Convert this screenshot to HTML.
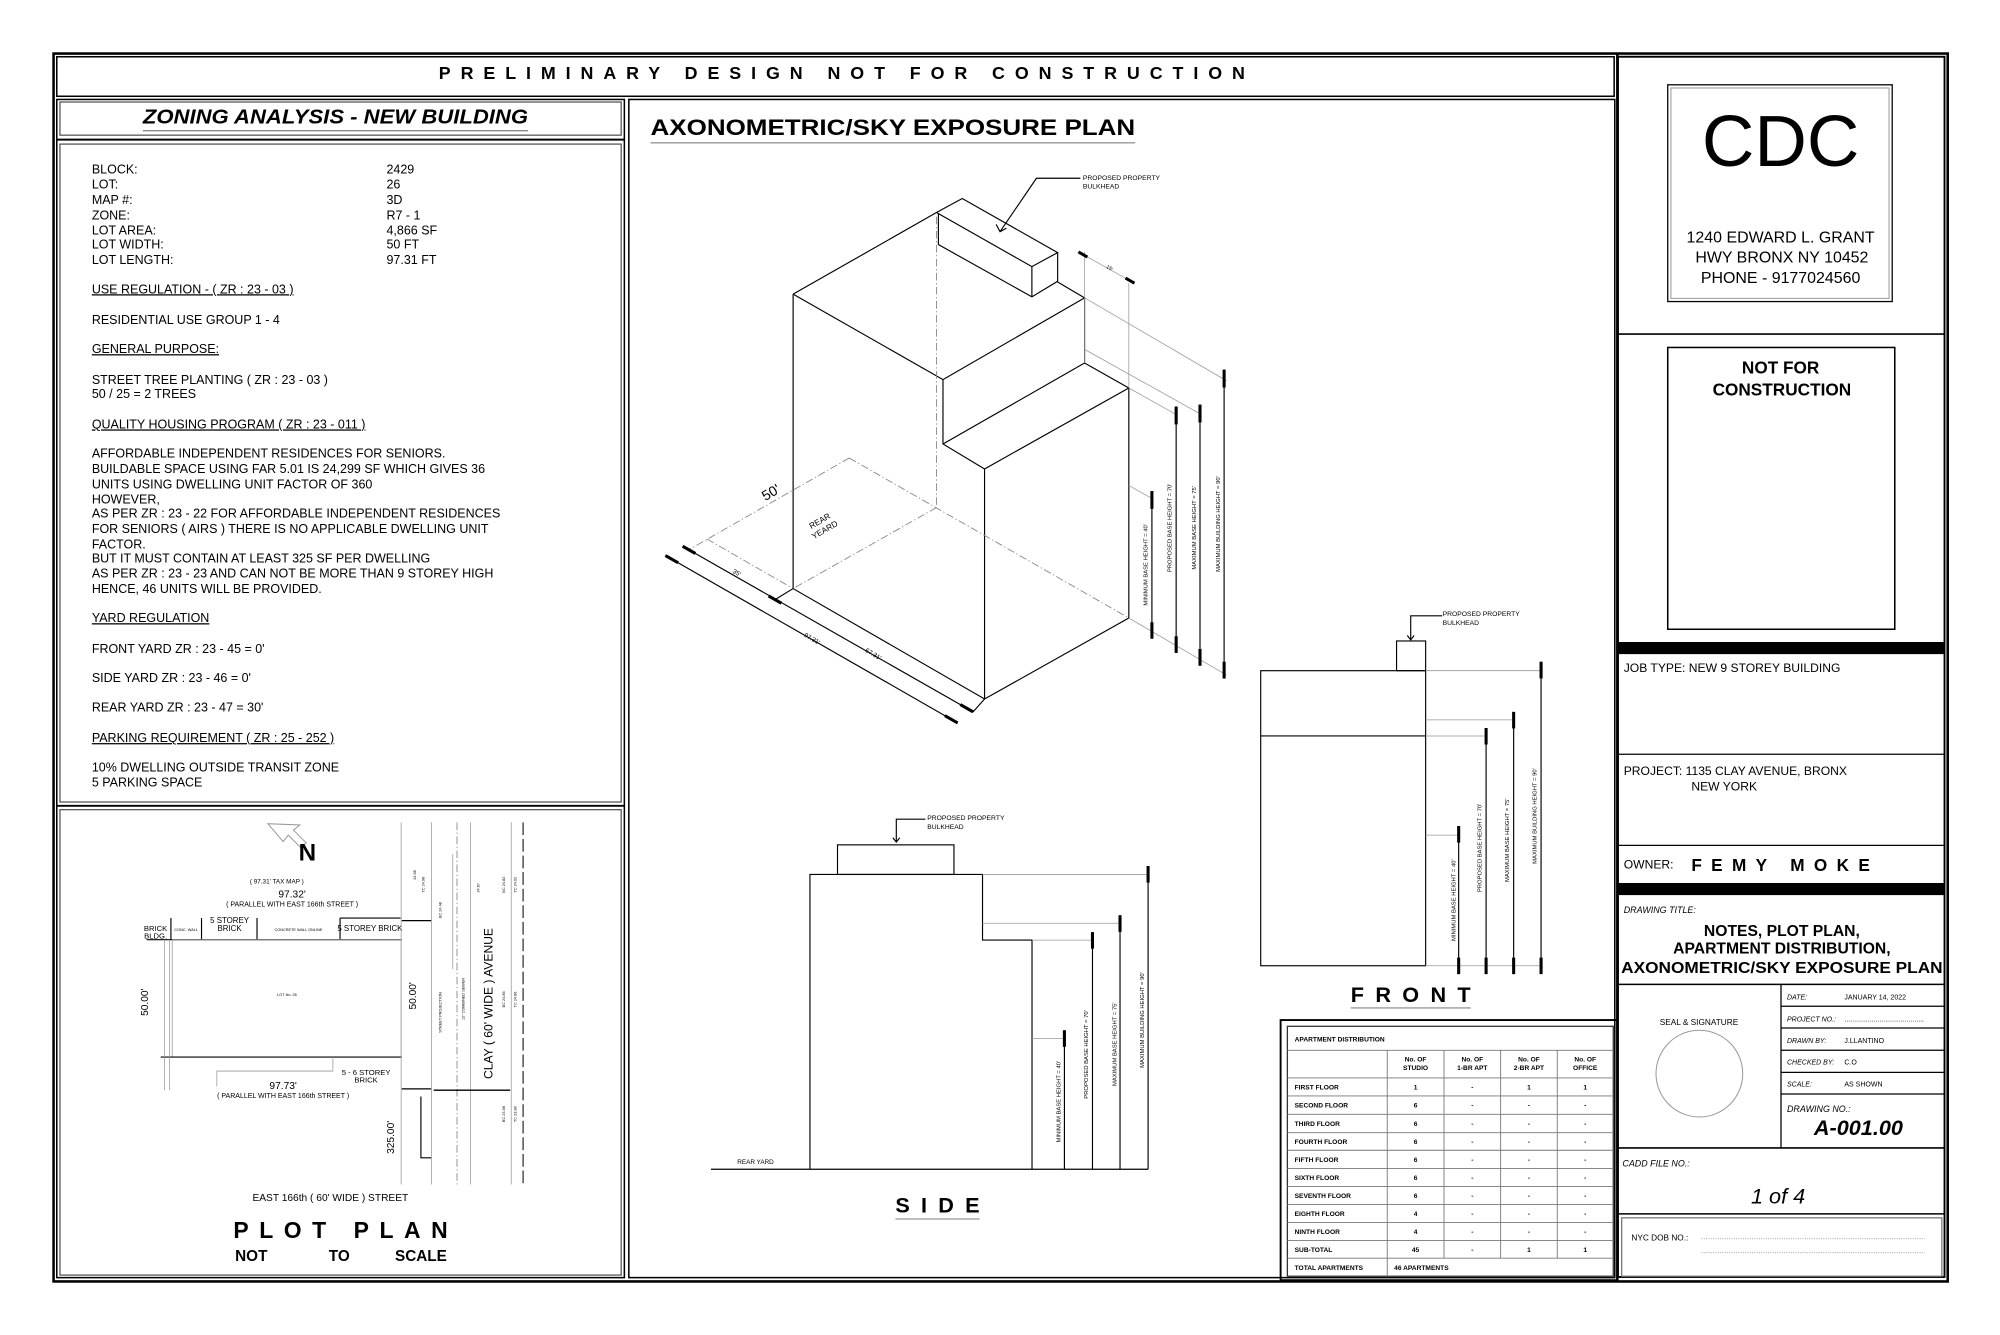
<!DOCTYPE html>
<html><head><meta charset="utf-8">
<style>
html,body{margin:0;padding:0;background:#fff;}
svg{display:block;}
text{font-family:"Liberation Sans",Arial,sans-serif;fill:#000;}
.b{font-weight:bold;}
.t{font-size:9.8px;}
.s{font-size:5px;}
.g{stroke:#999;stroke-width:0.6;fill:none;}
.k{stroke:#000;stroke-width:0.9;fill:none;}
.tk{stroke:#000;stroke-width:2.4;}
.d{stroke:#888;stroke-width:0.7;stroke-dasharray:6 2 1 2;fill:none;}
</style></head>
<body>
<svg width="2000" height="1335" viewBox="0 0 1568 1047" preserveAspectRatio="none" xmlns="http://www.w3.org/2000/svg">
<rect x="0" y="0" width="1568" height="1047" fill="#fff"/>
<rect x="42" y="42" width="1485" height="963" fill="none" stroke="#000" stroke-width="2"/>
<rect x="44.5" y="44.5" width="1221" height="31" fill="none" stroke="#000" stroke-width="1.2"/>
<text x="660" y="62" class="b" font-size="14" text-anchor="middle" textLength="632" lengthAdjust="spacing">PRELIMINARY  DESIGN  NOT  FOR  CONSTRUCTION</text>
<line x1="1268" y1="42" x2="1268" y2="1005" stroke="#000" stroke-width="2"/>
<rect x="44.5" y="78" width="445" height="924" fill="none" stroke="#000" stroke-width="1.2"/>
<rect x="47" y="80" width="440" height="26" fill="none" stroke="#555" stroke-width="1"/>
<text x="263" y="97" class="b" font-size="16" font-style="italic" text-anchor="middle" textLength="302" lengthAdjust="spacingAndGlyphs">ZONING ANALYSIS - NEW BUILDING</text>
<line x1="112" y1="102.5" x2="414" y2="102.5" stroke="#888" stroke-width="1"/>
<line x1="44.5" y1="109.5" x2="489.5" y2="109.5" stroke="#000" stroke-width="1.5"/>
<rect x="47" y="113" width="440" height="516" fill="none" stroke="#555" stroke-width="1"/>
<g class="t">
<text x="72" y="136">BLOCK:</text><text x="303" y="136">2429</text>
<text x="72" y="148">LOT:</text><text x="303" y="148">26</text>
<text x="72" y="160">MAP #:</text><text x="303" y="160">3D</text>
<text x="72" y="172">ZONE:</text><text x="303" y="172">R7 - 1</text>
<text x="72" y="184">LOT AREA:</text><text x="303" y="184">4,866 SF</text>
<text x="72" y="195">LOT WIDTH:</text><text x="303" y="195">50 FT</text>
<text x="72" y="207">LOT LENGTH:</text><text x="303" y="207">97.31 FT</text>
<text x="72" y="230" text-decoration="underline">USE REGULATION - ( ZR : 23 - 03 )</text>
<text x="72" y="254">RESIDENTIAL USE GROUP 1 - 4</text>
<text x="72" y="277" text-decoration="underline">GENERAL PURPOSE:</text>
<text x="72" y="301">STREET TREE PLANTING ( ZR : 23 - 03 )</text>
<text x="72" y="312">50 / 25 = 2 TREES</text>
<text x="72" y="336" text-decoration="underline">QUALITY HOUSING PROGRAM ( ZR : 23 - 011 )</text>
<text x="72" y="359">AFFORDABLE INDEPENDENT RESIDENCES FOR SENIORS.</text>
<text x="72" y="371">BUILDABLE SPACE USING FAR 5.01 IS 24,299 SF WHICH GIVES 36</text>
<text x="72" y="383">UNITS USING DWELLING UNIT FACTOR OF 360</text>
<text x="72" y="395">HOWEVER,</text>
<text x="72" y="406">AS PER ZR : 23 - 22 FOR AFFORDABLE INDEPENDENT RESIDENCES</text>
<text x="72" y="418">FOR SENIORS ( AIRS ) THERE IS NO APPLICABLE DWELLING UNIT</text>
<text x="72" y="430">FACTOR.</text>
<text x="72" y="441">BUT IT MUST CONTAIN AT LEAST 325 SF PER DWELLING</text>
<text x="72" y="453">AS PER ZR : 23 - 23 AND CAN NOT BE MORE THAN 9 STOREY HIGH</text>
<text x="72" y="465">HENCE, 46 UNITS WILL BE PROVIDED.</text>
<text x="72" y="488" text-decoration="underline">YARD REGULATION</text>
<text x="72" y="512">FRONT YARD ZR : 23 - 45 = 0'</text>
<text x="72" y="535">SIDE YARD ZR : 23 - 46 = 0'</text>
<text x="72" y="558">REAR YARD ZR : 23 - 47 = 30'</text>
<text x="72" y="582" text-decoration="underline">PARKING REQUIREMENT ( ZR : 25 - 252 )</text>
<text x="72" y="605">10% DWELLING OUTSIDE TRANSIT ZONE</text>
<text x="72" y="617">5 PARKING SPACE</text>
</g>
<line x1="44.5" y1="632" x2="489.5" y2="632" stroke="#000" stroke-width="1.5"/>
<rect x="47" y="635" width="440" height="365" fill="none" stroke="#555" stroke-width="1"/>
<g>
<path d="M210,646 L222,660 L226,655 L236,665 L240,661 L230,651 L235,647 Z" fill="none" stroke="#999" stroke-width="0.8"/>
<text x="241" y="675" class="b" font-size="19" text-anchor="middle">N</text>
<text x="217" y="693" class="s" text-anchor="middle">( 97.31' TAX MAP )</text>
<text x="229" y="704" font-size="8" text-anchor="middle">97.32'</text>
<text x="229" y="711" font-size="5.5" text-anchor="middle">( PARALLEL WITH EAST 166th STREET )</text>
<text x="122" y="730" font-size="6" text-anchor="middle">BRICK</text><text x="122" y="736" font-size="6" text-anchor="middle">BLDG.</text>
<text x="180" y="724" font-size="6.2" text-anchor="middle">5 STOREY</text><text x="180" y="730" font-size="6.2" text-anchor="middle">BRICK</text>
<text x="290" y="730" font-size="6.2" text-anchor="middle">5 STOREY BRICK</text>
<text x="146" y="730" font-size="3" text-anchor="middle">CONC. WALL</text>
<text x="234" y="730" font-size="3" text-anchor="middle">CONCRETE WALL ONLINE</text>
<line x1="115" y1="737" x2="315" y2="737" class="k"/>
<path d="M134,720 V737 M158,720 V737 M201.5,720 V737 M266.6,720 V737 M266.6,720 H314" class="k"/>
<rect x="135" y="737" width="179.5" height="92" class="g"/>
<line x1="126" y1="829" x2="315" y2="829" class="k"/>
<path d="M170,852 V840 H261 V829" class="g"/>
<text x="222" y="854" font-size="8" text-anchor="middle">97.73'</text>
<text x="222" y="861" font-size="5.5" text-anchor="middle">( PARALLEL WITH EAST 166th STREET )</text>
<text x="287" y="843" font-size="6" text-anchor="middle">5 - 6 STOREY</text><text x="287" y="849" font-size="6" text-anchor="middle">BRICK</text>
<text x="225" y="781" font-size="3" text-anchor="middle">LOT No. 26</text>
<text x="116" y="786" font-size="8" text-anchor="middle" transform="rotate(-90 116 786)">50.00'</text>
<text x="326" y="781" font-size="8" text-anchor="middle" transform="rotate(-90 326 781)">50.00'</text>
<text x="309" y="892" font-size="8" text-anchor="middle" transform="rotate(-90 309 892)">325.00'</text>
<text x="386" y="787" font-size="9.5" text-anchor="middle" transform="rotate(-90 386 787)">CLAY ( 60' WIDE ) AVENUE</text>
<text x="259" y="942" font-size="8" text-anchor="middle">EAST 166th ( 60' WIDE ) STREET</text>
<path d="M129,737 V855 M133,737 V855" class="g"/>
<path d="M314.5,645 V929 M338.4,645 V929 M368.9,645 V929 M400.8,645 V929" class="g"/>
<path d="M358.3,645 V929" class="d"/>
<path d="M410.1,645 V929" stroke="#000" stroke-width="0.8" stroke-dasharray="10 3"/>
<path d="M315,722 H338 M315,854 H338 M340,855 H400" stroke="#000" stroke-width="1"/>
<path d="M330,860 V908 H338" class="k"/>
<path d="M355,670 V760" class="g"/>
<g font-size="3" fill="#444">
<text x="326" y="690" transform="rotate(-90 326 690)">24.98</text>
<text x="333" y="700" transform="rotate(-90 333 700)">TC 24.98</text>
<text x="346" y="720" transform="rotate(-90 346 720)">BC 24.48</text>
<text x="376" y="700" transform="rotate(-90 376 700)">24.67</text>
<text x="396" y="700" transform="rotate(-90 396 700)">BC 24.82</text>
<text x="405" y="700" transform="rotate(-90 405 700)">TC 24.92</text>
<text x="396" y="790" transform="rotate(-90 396 790)">BC 24.86</text>
<text x="405" y="790" transform="rotate(-90 405 790)">TC 24.86</text>
<text x="396" y="880" transform="rotate(-90 396 880)">BC 23.98</text>
<text x="405" y="880" transform="rotate(-90 405 880)">TC 23.98</text>
<text x="346" y="810" transform="rotate(-90 346 810)">STREET PROJECTION</text>
<text x="364" y="800" transform="rotate(-90 364 800)">12" COMBINED SEWER</text>
</g>
<text x="267" y="971" class="b" font-size="18" text-anchor="middle" textLength="168" lengthAdjust="spacing">PLOT PLAN</text>
<text x="197" y="989" class="b" font-size="12" text-anchor="middle">NOT</text>
<text x="266" y="989" class="b" font-size="12" text-anchor="middle">TO</text>
<text x="330" y="989" class="b" font-size="12" text-anchor="middle">SCALE</text>
</g>
<rect x="493" y="78" width="773" height="924" fill="none" stroke="#000" stroke-width="1.2"/>
<text x="510" y="106" class="b" font-size="17.5" textLength="380" lengthAdjust="spacingAndGlyphs">AXONOMETRIC/SKY EXPOSURE PLAN</text>
<line x1="510" y1="112" x2="890" y2="112" stroke="#999" stroke-width="1"/>
<g class="k">
<path d="M621.8,230.7 L734.2,166.7 M621.8,230.7 L739.3,297.7 L850.3,233.6 L829.2,221.2"/>
<path d="M734.2,166.7 L754.4,155.7 L829.2,198.1 L809,209.1 L734.2,166.7 M735.7,168 V191.8 L809,232.8 L829.2,220.6 V198.1 M809,209.1 V232.8"/>
<path d="M621.8,230.7 V461.6 L771.9,548.2 L885,484.7 V304.3 L771.9,367.8 V548.2 M771.9,367.8 L739.3,348.2 V297.7 M739.3,348.2 L850.3,284.7 L885,304.3 M850.3,233.6 V284.7"/>
</g>
<path d="M734.2,170 V398.1" class="d"/>
<path d="M665.8,359.2 L539.8,431.3 M665.8,359.2 L885,484.7 M554.2,422.7 L621.8,461.6 M734.2,398.1 L621.8,461.6" class="d"/>
<path d="M521.7,435.7 L750.8,567 M535.2,428.4 L762.9,558.3 M621.8,461.6 L607.6,470.3 M771.9,548.2 L762.9,558.3" class="k"/>
<path d="M521.7,435.7 l10,5.7 M740.8,561.3 l10,5.7 M535.2,428.4 l10,5.7 M752.9,552.6 l10,5.7 M602.6,467.4 l10,5.7" class="tk"/>
<text x="574" y="449" font-size="5" transform="rotate(30 574 449)">35'</text>
<text x="630" y="499" font-size="5" transform="rotate(30 630 499)">97.31'</text>
<text x="678" y="511" font-size="5" transform="rotate(30 678 511)">67.31'</text>
<text x="600" y="393" font-size="11" transform="rotate(-30 600 393)">50'</text>
<text x="636" y="415" font-size="6.5" transform="rotate(-30 636 415)">REAR</text>
<text x="638" y="423" font-size="6.5" transform="rotate(-30 638 423)">YEARD</text>
<path d="M885,484.7 L961.6,529.4 M850.3,233.6 L961.6,298.6 M850.3,274 L940.8,324.5 M885,304.3 L922,325 M885,380.8 L903.1,390.9 M845.5,197.6 L889.4,222.1 M850.3,197.6 V284.7 M885,222 V304.3" class="g"/>
<path d="M903.1,385.1 V500.6 M922.1,318.8 V512.1 M940.8,317.3 V522.2 M959.7,289.9 V532.3" class="k"/>
<path d="M903.1,385.1 v14 M903.1,488 v13 M922.1,318.8 v14 M922.1,499 v13 M940.8,317.3 v14 M940.8,509 v13 M959.7,289.9 v14 M959.7,519 v13 M845.5,197.6 l7,4 M882.4,218.1 l7,4" class="tk"/>
<text x="867" y="210" font-size="4" transform="rotate(30 867 210)">15'</text>
<g font-size="4.6" text-anchor="middle">
<text x="899.5" y="443" transform="rotate(-90 899.5 443)">MINIMUM BASE HEIGHT = 40'</text>
<text x="918.5" y="414" transform="rotate(-90 918.5 414)">PROPOSED BASE HEIGHT = 70'</text>
<text x="937.5" y="414" transform="rotate(-90 937.5 414)">MAXIMUM BASE HEIGHT = 75'</text>
<text x="956.3" y="411" transform="rotate(-90 956.3 411)">MAXIMUM BUILDING HEIGHT = 90'</text>
</g>
<path d="M847,139.8 H812.6 L784,181.7" class="k"/>
<path d="M781,176 L784,181.7 L789,179" class="k"/>
<text x="849" y="141" font-size="5.3">PROPOSED PROPERTY</text>
<text x="849" y="148" font-size="5.3">BULKHEAD</text>
<path d="M557.4,917 H900.1" class="k"/>
<rect x="656.6" y="662.6" width="91.3" height="23.2" class="k"/>
<path d="M635,917 V685.8 H770.3 V737.3 H809.1 V917" class="k"/>
<path d="M770.3,685.8 H900 M770.3,724.1 H878 M809.1,737.3 H856.5 M809.1,814.5 H834.5" class="g"/>
<path d="M834.5,808 V917 M856.5,731 V917 M878.1,717.8 V917 M900.1,679.2 V917" class="k"/>
<path d="M834.5,808 v13 M856.5,731 v13 M878.1,717.8 v13 M900.1,679.2 v13" class="tk"/>
<g font-size="4.6" text-anchor="middle">
<text x="831.5" y="864" transform="rotate(-90 831.5 864)">MINIMUM BASE HEIGHT = 40'</text>
<text x="853" y="827" transform="rotate(-90 853 827)">PROPOSED BASE HEIGHT = 70'</text>
<text x="875.5" y="819" transform="rotate(-90 875.5 819)">MAXIMUM BASE HEIGHT = 75'</text>
<text x="897" y="800" transform="rotate(-90 897 800)">MAXIMUM BUILDING HEIGHT = 90'</text>
</g>
<text x="578" y="913" font-size="5">REAR YARD</text>
<path d="M702.7,660.4 V642.5 H725.5 M700,657 L702.7,660.4 L705.4,657" class="k"/>
<text x="727" y="643" font-size="5.3">PROPOSED PROPERTY</text>
<text x="727" y="650" font-size="5.3">BULKHEAD</text>
<text x="735" y="951" class="b" font-size="17" text-anchor="middle" textLength="66" lengthAdjust="spacing">SIDE</text>
<line x1="702" y1="956" x2="768" y2="956" stroke="#999" stroke-width="1"/>
<rect x="1094.9" y="502.7" width="22.8" height="23.3" class="k"/>
<rect x="988.4" y="526" width="129.3" height="231.4" class="k"/>
<line x1="988.4" y1="577.2" x2="1117.7" y2="577.2" class="k"/>
<path d="M1117.7,526 H1208 M1117.7,564.6 H1186.7 M1117.7,577.2 H1165 M1117.7,655 H1143.6 M1117.7,757.4 H1208" class="g"/>
<path d="M1143.6,647.8 V764 M1165.1,570.9 V764 M1186.7,558.3 V764 M1208.2,519 V764" class="k"/>
<path d="M1143.6,647.8 v13 M1165.1,570.9 v13 M1186.7,558.3 v13 M1208.2,519 v13 M1143.6,751 v13 M1165.1,751 v13 M1186.7,751 v13 M1208.2,751 v13" class="tk"/>
<g font-size="4.6" text-anchor="middle">
<text x="1141" y="706" transform="rotate(-90 1141 706)">MINIMUM BASE HEIGHT = 40'</text>
<text x="1161.5" y="665" transform="rotate(-90 1161.5 665)">PROPOSED BASE HEIGHT = 70'</text>
<text x="1183" y="659" transform="rotate(-90 1183 659)">MAXIMUM BASE HEIGHT = 75'</text>
<text x="1204.5" y="640" transform="rotate(-90 1204.5 640)">MAXIMUM BUILDING HEIGHT = 90'</text>
</g>
<path d="M1106,501.8 V483 H1130.7 M1103.3,498.4 L1106,501.8 L1108.7,498.4" class="k"/>
<text x="1131" y="483" font-size="5.3">PROPOSED PROPERTY</text>
<text x="1131" y="490" font-size="5.3">BULKHEAD</text>
<text x="1106" y="786" class="b" font-size="17" text-anchor="middle" textLength="94" lengthAdjust="spacing">FRONT</text>
<line x1="1059" y1="790.5" x2="1153" y2="790.5" stroke="#999" stroke-width="1"/>
<rect x="1004" y="800" width="264" height="204" fill="none" stroke="#000" stroke-width="1.5"/>
<rect x="1009.3" y="804.9" width="255.5" height="196" fill="none" stroke="#333" stroke-width="1"/>
<g stroke="#777" stroke-width="0.7">
<path d="M1009.3,823.7 H1264.8 M1009.3,845.4 H1264.8 M1009.3,859.5 H1264.8 M1009.3,873.9 H1264.8 M1009.3,888.3 H1264.8 M1009.3,902.1 H1264.8 M1009.3,916.5 H1264.8 M1009.3,930.6 H1264.8 M1009.3,944.7 H1264.8 M1009.3,958.8 H1264.8 M1009.3,972.9 H1264.8 M1009.3,986.8 H1264.8"/>
<path d="M1087.6,823.7 V1000.9 M1132.1,823.7 V986.8 M1176.5,823.7 V986.8 M1220.9,823.7 V986.8"/>
</g>
<g font-size="5.2" class="b">
<text x="1015" y="817">APARTMENT DISTRIBUTION</text>
<g text-anchor="middle">
<text x="1109.8" y="832.5">No. OF</text><text x="1109.8" y="839">STUDIO</text>
<text x="1154.3" y="832.5">No. OF</text><text x="1154.3" y="839">1-BR APT</text>
<text x="1198.7" y="832.5">No. OF</text><text x="1198.7" y="839">2-BR APT</text>
<text x="1242.8" y="832.5">No. OF</text><text x="1242.8" y="839">OFFICE</text>
</g>
<text x="1015" y="854.5">FIRST FLOOR</text>
<text x="1015" y="868.7">SECOND FLOOR</text>
<text x="1015" y="883">THIRD FLOOR</text>
<text x="1015" y="897.2">FOURTH FLOOR</text>
<text x="1015" y="911.3">FIFTH FLOOR</text>
<text x="1015" y="925.5">SIXTH FLOOR</text>
<text x="1015" y="939.7">SEVENTH FLOOR</text>
<text x="1015" y="953.8">EIGHTH FLOOR</text>
<text x="1015" y="967.9">NINTH FLOOR</text>
<text x="1015" y="981.9">SUB-TOTAL</text>
<text x="1015" y="995.9">TOTAL APARTMENTS</text>
<text x="1093" y="995.9">46 APARTMENTS</text>
<g text-anchor="middle">
<text x="1109.8" y="854.5">1</text><text x="1154.3" y="854.5">-</text><text x="1198.7" y="854.5">1</text><text x="1242.8" y="854.5">1</text>
<text x="1109.8" y="868.7">6</text><text x="1154.3" y="868.7">-</text><text x="1198.7" y="868.7">-</text><text x="1242.8" y="868.7">-</text>
<text x="1109.8" y="883">6</text><text x="1154.3" y="883">-</text><text x="1198.7" y="883">-</text><text x="1242.8" y="883">-</text>
<text x="1109.8" y="897.2">6</text><text x="1154.3" y="897.2">-</text><text x="1198.7" y="897.2">-</text><text x="1242.8" y="897.2">-</text>
<text x="1109.8" y="911.3">6</text><text x="1154.3" y="911.3">-</text><text x="1198.7" y="911.3">-</text><text x="1242.8" y="911.3">-</text>
<text x="1109.8" y="925.5">6</text><text x="1154.3" y="925.5">-</text><text x="1198.7" y="925.5">-</text><text x="1242.8" y="925.5">-</text>
<text x="1109.8" y="939.7">6</text><text x="1154.3" y="939.7">-</text><text x="1198.7" y="939.7">-</text><text x="1242.8" y="939.7">-</text>
<text x="1109.8" y="953.8">4</text><text x="1154.3" y="953.8">-</text><text x="1198.7" y="953.8">-</text><text x="1242.8" y="953.8">-</text>
<text x="1109.8" y="967.9">4</text><text x="1154.3" y="967.9">-</text><text x="1198.7" y="967.9">-</text><text x="1242.8" y="967.9">-</text>
<text x="1109.8" y="981.9">45</text><text x="1154.3" y="981.9">-</text><text x="1198.7" y="981.9">1</text><text x="1242.8" y="981.9">1</text>
</g>
</g>
<rect x="1268.5" y="44.5" width="256" height="957" fill="none" stroke="#000" stroke-width="1.5"/>
<rect x="1307.5" y="66.5" width="176" height="170" fill="none" stroke="#000" stroke-width="1"/>
<rect x="1310" y="69" width="171" height="165" fill="none" stroke="#999" stroke-width="0.8"/>
<text x="1396" y="130" font-size="57" text-anchor="middle">CDC</text>
<text x="1396" y="190" font-size="12.5" text-anchor="middle">1240 EDWARD L. GRANT</text>
<text x="1397" y="206" font-size="12.5" text-anchor="middle">HWY BRONX NY 10452</text>
<text x="1396" y="222" font-size="12.5" text-anchor="middle">PHONE - 9177024560</text>
<line x1="1268.5" y1="262" x2="1524.5" y2="262" stroke="#000" stroke-width="1.2"/>
<rect x="1307.5" y="272.5" width="178" height="221" fill="none" stroke="#000" stroke-width="1.2"/>
<text x="1396" y="293" class="b" font-size="13.5" text-anchor="middle">NOT FOR</text>
<text x="1397" y="310" class="b" font-size="13.5" text-anchor="middle">CONSTRUCTION</text>
<rect x="1268.5" y="503.5" width="256" height="9.5" fill="#000"/>
<text x="1273" y="527" font-size="9.5">JOB TYPE:  NEW 9 STOREY BUILDING</text>
<line x1="1268.5" y1="591.5" x2="1524.5" y2="591.5" stroke="#000" stroke-width="1"/>
<text x="1273" y="608" font-size="9.5">PROJECT:  1135 CLAY AVENUE, BRONX</text>
<text x="1326" y="620" font-size="9.5">NEW YORK</text>
<line x1="1268.5" y1="663" x2="1524.5" y2="663" stroke="#000" stroke-width="1"/>
<text x="1273" y="681" font-size="9.5">OWNER:</text>
<text x="1326" y="683" class="b" font-size="13.5" textLength="140" lengthAdjust="spacing">FEMY  MOKE</text>
<rect x="1268.5" y="692.5" width="256" height="9.5" fill="#000"/>
<text x="1273" y="716" font-size="7" font-style="italic">DRAWING TITLE:</text>
<g class="b" font-size="12.3" text-anchor="middle">
<text x="1397" y="734">NOTES, PLOT PLAN,</text>
<text x="1397" y="748">APARTMENT DISTRIBUTION,</text>
<text x="1397" y="763" textLength="252" lengthAdjust="spacingAndGlyphs">AXONOMETRIC/SKY EXPOSURE PLAN</text>
</g>
<line x1="1268.5" y1="772" x2="1524.5" y2="772" stroke="#000" stroke-width="1.2"/>
<line x1="1396.3" y1="772" x2="1396.3" y2="900.3" stroke="#000" stroke-width="1"/>
<path d="M1396.3,789.2 H1524.5 M1396.3,806.2 H1524.5 M1396.3,823.7 H1524.5 M1396.3,841 H1524.5 M1396.3,858 H1524.5" stroke="#000" stroke-width="1"/>
<line x1="1268.5" y1="900.3" x2="1524.5" y2="900.3" stroke="#000" stroke-width="1.2"/>
<line x1="1268.5" y1="952" x2="1524.5" y2="952" stroke="#000" stroke-width="1.2"/>
<text x="1332" y="804" font-size="6.5" text-anchor="middle">SEAL &amp; SIGNATURE</text>
<circle cx="1332.3" cy="842" r="34" fill="none" stroke="#999" stroke-width="0.8"/>
<g font-size="5.5">
<text x="1401" y="784" font-style="italic">DATE:</text><text x="1446" y="784">JANUARY 14, 2022</text>
<text x="1401" y="801" font-style="italic">PROJECT NO.:</text><text x="1446" y="801" fill="#777">.........................................</text>
<text x="1401" y="818" font-style="italic">DRAWN BY:</text><text x="1446" y="818">J.LLANTINO</text>
<text x="1401" y="835" font-style="italic">CHECKED BY:</text><text x="1446" y="835">C.O</text>
<text x="1401" y="852" font-style="italic">SCALE:</text><text x="1446" y="852">AS SHOWN</text>
</g>
<text x="1401" y="872" font-size="7" font-style="italic">DRAWING NO.:</text>
<text x="1457" y="890" class="b" font-style="italic" font-size="17" text-anchor="middle">A-001.00</text>
<text x="1272" y="915" font-size="7" font-style="italic">CADD FILE NO.:</text>
<text x="1394" y="944" font-size="17" font-style="italic" text-anchor="middle">1 of 4</text>
<rect x="1271.4" y="955.1" width="251" height="45.8" fill="none" stroke="#777" stroke-width="1"/>
<text x="1279" y="973" font-size="6.5">NYC DOB NO.:</text>
<path d="M1334,971.5 H1509 M1334,982.5 H1509" stroke="#888" stroke-width="0.6" stroke-dasharray="0.8 1"/>
</svg>
</body></html>
